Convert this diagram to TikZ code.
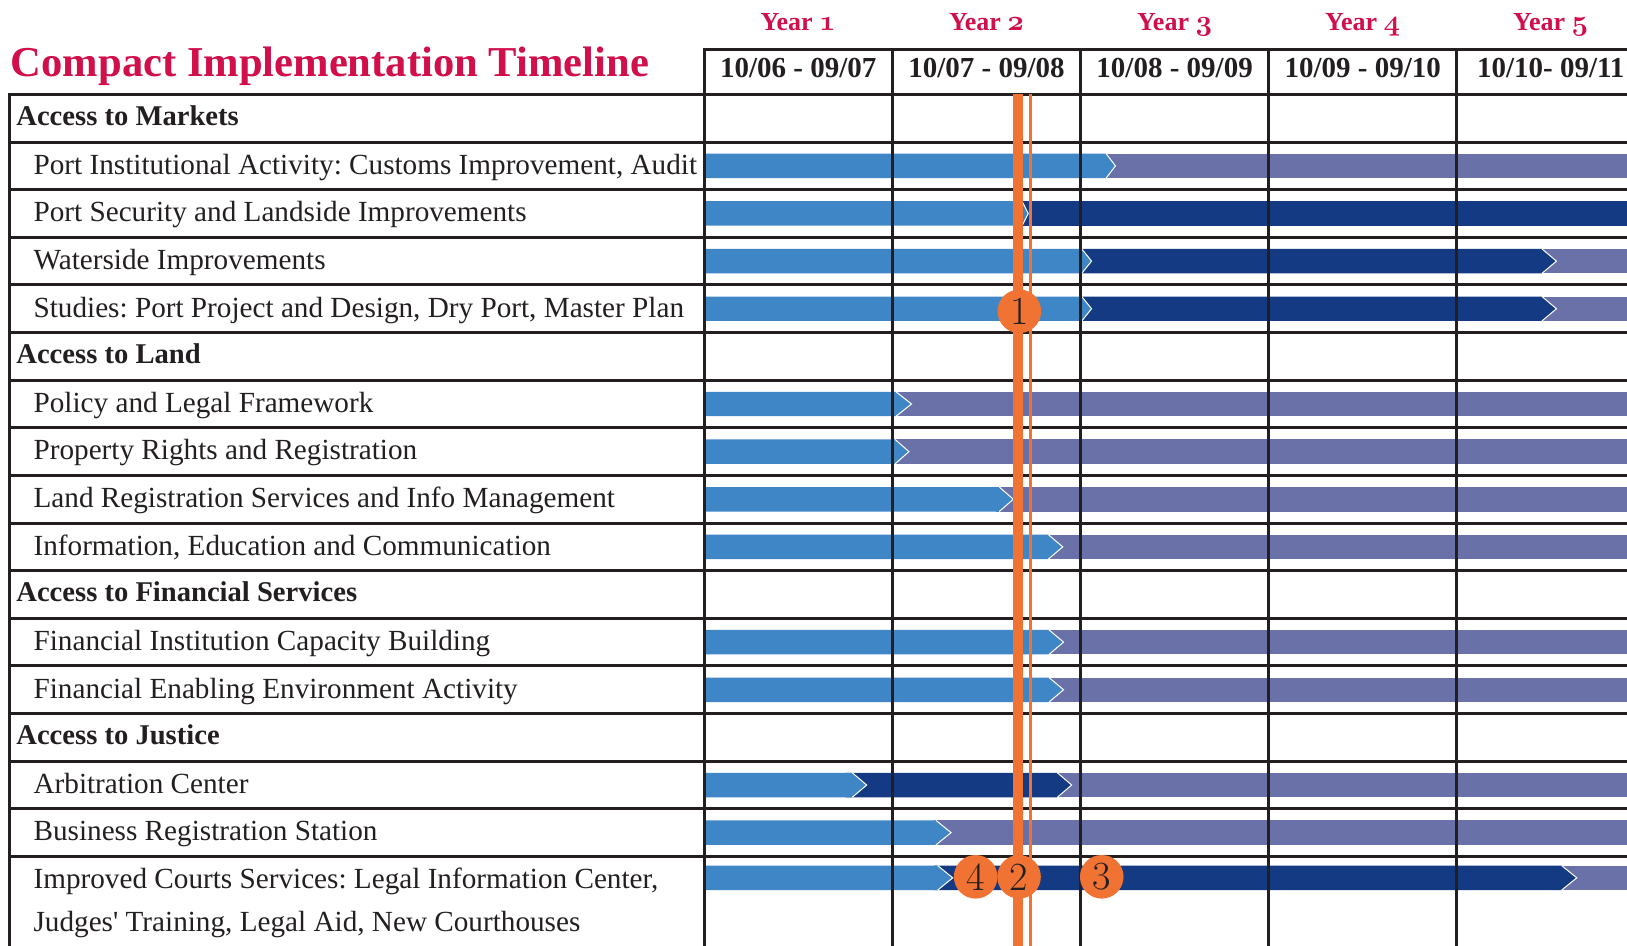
\documentclass[tikz,border=0pt]{standalone}
\usepackage{fontspec}
\setmainfont{Liberation Serif}
\newfontfamily\lmr{Latin Modern Roman}
\definecolor{lb}{HTML}{3F86C6}
\definecolor{pu}{HTML}{6A70A8}
\definecolor{nv}{HTML}{133A82}
\definecolor{og}{HTML}{F07333}
\definecolor{rd}{HTML}{D10F4B}
\definecolor{gr}{HTML}{231F20}
\frenchspacing
\newcommand\osf[1]{{\fontencoding{OML}\fontfamily{cmm}\fontseries{b}\fontshape{it}\fontsize{14}{16}\selectfont #1}}
\newcommand\tailseg[3]{\fill[#1] (#2,#3-11.8) rectangle (1600,#3+11.8);}
\newcommand\arrseg[5]{%
  \fill[#1] (#2,#5-11.8) -- (#3,#5-11.8) -- (#4,#5) -- (#3,#5+11.8) -- (#2,#5+11.8) -- cycle;
  \draw[white,line width=0.5pt] (#3,#5-11.8) -- (#4,#5) -- (#3,#5+11.8);}
\begin{document}
\begin{tikzpicture}[x=0.5188pt,y=-0.5188pt,
  grid/.style={draw=gr,line width=1.5pt,line cap=rect},
  cat/.style={anchor=base west,inner sep=0pt,font=\fontsize{14.3}{17}\selectfont\bfseries,text=gr},
  item/.style={anchor=base west,inner sep=0pt,font=\fontsize{14.6}{17}\selectfont,text=gr},
  yr/.style={anchor=base,inner sep=0pt,font=\fontsize{13}{15}\selectfont\bfseries,text=rd},
  dt/.style={anchor=base,inner sep=0pt,font=\fontsize{14.5}{17}\selectfont\bfseries,text=gr},
  milestone/.style={circle,fill=og,minimum size=21.8pt,inner sep=0pt,font=\lmr\fontsize{20}{22}\selectfont,text=gr}]
\useasboundingbox (0,0) rectangle (1568,911);
\clip (0,0) rectangle (1568,911);
% bars
\tailseg{pu}{1060}{159.85}\arrseg{lb}{680}{1066}{1075}{159.85}
\tailseg{nv}{980}{205.75}\arrseg{lb}{680}{985}{991}{205.75}
\tailseg{pu}{1480}{251.65}\arrseg{nv}{1040}{1486}{1500}{251.65}\arrseg{lb}{680}{1042.5}{1052}{251.65}
\tailseg{pu}{1480}{297.55}\arrseg{nv}{1040}{1486}{1500}{297.55}\arrseg{lb}{680}{1042.5}{1052}{297.55}
\tailseg{pu}{860}{389.35}\arrseg{lb}{680}{863.5}{878.5}{389.35}
\tailseg{pu}{860}{435.25}\arrseg{lb}{680}{862.6}{876}{435.25}
\tailseg{pu}{960}{481.15}\arrseg{lb}{680}{963}{976.6}{481.15}
\tailseg{pu}{1005}{527.05}\arrseg{lb}{680}{1010.3}{1024.2}{527.05}
\tailseg{pu}{1005}{618.85}\arrseg{lb}{680}{1011}{1025}{618.85}
\tailseg{pu}{1005}{664.75}\arrseg{lb}{680}{1011}{1025}{664.75}
\tailseg{pu}{1015}{756.55}\arrseg{nv}{815}{1019}{1032.8}{756.55}\arrseg{lb}{680}{821.4}{835.3}{756.55}
\tailseg{pu}{900}{802.45}\arrseg{lb}{680}{902}{916.6}{802.45}
\tailseg{pu}{1500}{846}\arrseg{nv}{900}{1505}{1519.6}{846}\arrseg{lb}{680}{903.7}{918.2}{846}
% grid
\foreach \i in {0,...,16} \draw[grid] (9,91+45.9*\i) -- (1600,91+45.9*\i);
\draw[grid] (9,91) -- (9,920);
\draw[grid] (678.5,48) -- (1600,48);
\foreach \x in {678.5,860,1041.5,1222.5,1404} \draw[grid] (\x,48) -- (\x,920);
% milestone lines
\draw[og,line width=4.7pt] (981.1,91) -- (981.1,920);
\draw[og,line width=1.5pt] (992.9,91) -- (992.9,920);
\node[milestone] (m1) at (982.4,300) {1};
\node[milestone] (m4) at (940.3,845) {4};
\node[milestone] (m2) at (982.1,845) {2};
\node[milestone] (m3) at (1061.8,845) {3};
% header
\node[anchor=base west,inner sep=0pt,font=\fontsize{21.3}{25}\selectfont\bfseries,text=rd] (title) at (10,73.5) {Compact Implementation Timeline};
\node[yr] (y1) at (769.25,29) {Year \osf{1}};
\node[yr] (y2) at (950.75,29) {Year \osf{2}};
\node[yr] (y3) at (1132,29) {Year \osf{3}};
\node[yr] (y4) at (1313.25,29) {Year \osf{4}};
\node[yr] (y5) at (1494.5,29) {Year \osf{5}};
\node[dt] (d1) at (769.25,75) {10/06 - 09/07};
\node[dt] (d2) at (950.75,75) {10/07 - 09/08};
\node[dt] (d3) at (1132,75) {10/08 - 09/09};
\node[dt] (d4) at (1313.25,75) {10/09 - 09/10};
\node[dt] (d5) at (1494.5,75) {10/10- 09/11};
% labels
\node[cat] (c1) at (15.4,121) {Access to Markets};
\node[item] (r1) at (32,167.85) {Port Institutional Activity: Customs Improvement, Audit};
\node[item] (r2) at (32,213.75) {Port Security and Landside Improvements};
\node[item] (r3) at (32,259.65) {Waterside Improvements};
\node[item] (r4) at (32,305.55) {Studies: Port Project and Design, Dry Port, Master Plan};
\node[cat] (c2) at (15.4,350.5) {Access to Land};
\node[item] (r6) at (32,397.35) {Policy and Legal Framework};
\node[item] (r7) at (32,443.25) {Property Rights and Registration};
\node[item] (r8) at (32,489.15) {Land Registration Services and Info Management};
\node[item] (r9) at (32,535.05) {Information, Education and Communication};
\node[cat] (c3) at (15.4,580) {Access to Financial Services};
\node[item] (r11) at (32,626.85) {Financial Institution Capacity Building};
\node[item] (r12) at (32,672.75) {Financial Enabling Environment Activity};
\node[cat] (c4) at (15.4,717.7) {Access to Justice};
\node[item] (r14) at (32,764.55) {Arbitration Center};
\node[item] (r15) at (32,810.45) {Business Registration Station};
\node[item] (r16) at (32,856.5) {Improved Courts Services: Legal Information Center,};
\node[item] (r16b) at (32,898) {Judges\textquotesingle\ Training, Legal Aid, New Courthouses};
\end{tikzpicture}
\end{document}
